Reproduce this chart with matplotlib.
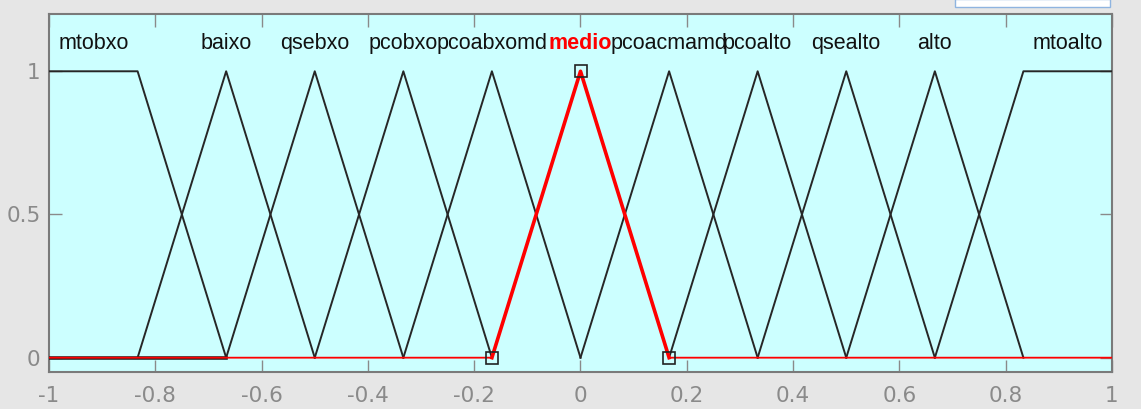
import numpy as np
import matplotlib.pyplot as plt
from matplotlib.patches import Rectangle

# membership functions of the variable (range -1..1)
names = ['mtobxo', 'baixo', 'qsebxo', 'pcobxo', 'pcoabxomd', 'medio',
         'pcoacmamd', 'pcoalto', 'qsealto', 'alto', 'mtoalto']
kinds = ['trap', 'tri', 'tri', 'tri', 'tri', 'tri', 'tri', 'tri', 'tri', 'tri', 'trap']
params = [
    [-1.1667, -1.0, -0.8333, -0.6667],
    [-0.8333, -0.6667, -0.5],
    [-0.6667, -0.5, -0.3333],
    [-0.5, -0.3333, -0.1667],
    [-0.3333, -0.1667, 0.0],
    [-0.1667, 0.0, 0.1667],
    [0.0, 0.1667, 0.3333],
    [0.1667, 0.3333, 0.5],
    [0.3333, 0.5, 0.6667],
    [0.5, 0.6667, 0.8333],
    [0.6667, 0.8333, 1.0, 1.1667],
]
selected = 'medio'
xrange_ = [-1, 1]
xticks = np.arange(-1, 1.01, 0.2)
yticks = [0, 0.5, 1]

axbg = '#ccffff'
figbg = '#e6e6e6'
grey = '#8a8a8a'
mfcol = '#262626'

fig = plt.figure(figsize=(11.41, 4.09), dpi=100, facecolor=figbg)
ax = fig.add_axes([49 / 1141, 37 / 409, 1063 / 1141, 358 / 409])
ax.set_facecolor(axbg)
plt.rcParams['font.family'] = ['Liberation Sans', 'DejaVu Sans']

for name, kind, p in zip(names, kinds, params):
    if kind == 'tri':
        xs = [p[0], p[1], p[2]]
        ys = [0, 1, 0]
    else:
        xs = [max(p[0], xrange_[0]), p[1], p[2], min(p[3], xrange_[1])]
        ys = [1 if p[0] < xrange_[0] else 0, 1, 1, 0]
        if p[3] > xrange_[1]:
            ys = [0, 1, 1, 1]
    if name == selected:
        continue
    ax.plot(xs, ys, color=mfcol, lw=1.4, zorder=3)

    # label placed over the top of the mf
    if kind == 'tri':
        lx = p[1]
    else:
        lx = (max(p[1], xrange_[0]) + min(p[2], xrange_[1])) / 2
    ax.text(lx, 1.098, name, ha='center', va='center', fontsize=15.5,
            color='#111111', zorder=5)

# black baseline left of the first mf
ax.plot([xrange_[0], params[0][3]], [0, 0], color=mfcol, lw=2.6, zorder=3)

# selected mf in red with vertex markers
i = names.index(selected)
p = params[i]
ax.plot([xrange_[0], p[0], p[1], p[2], xrange_[1]], [0, 0, 1, 0, 0],
        color='red', lw=1.3, zorder=4)
ax.plot([p[0], p[1], p[2]], [0, 1, 0], color='red', lw=2.6, zorder=4)
ax.plot([p[0], p[1], p[2]], [0, 1, 0], ls='none', marker='s', ms=8,
        mfc='none', mec='#222222', mew=1.2, zorder=6)
ax.text(p[1], 1.098, selected, ha='center', va='center', fontsize=15.5,
        color='red', fontweight='bold', zorder=5)

ax.set_xlim(-1, 1)
ax.set_ylim(-0.05, 1.2)
ax.set_xticks(xticks)
ax.set_xticklabels(['-1', '-0.8', '-0.6', '-0.4', '-0.2', '0', '0.2', '0.4',
                    '0.6', '0.8', '1'])
ax.set_yticks(yticks)
ax.set_yticklabels(['0', '0.5', '1'])
ax.tick_params(direction='in', length=9, width=1, color=grey, labelcolor=grey,
               labelsize=15.5, top=True, right=True, pad=6)
ax.tick_params(axis='x', pad=10)
for s in ax.spines.values():
    s.set_color('#7a7a7a')
    s.set_linewidth(1.5)

# part of a white control showing in the top right corner
fig.patches.append(Rectangle((955 / 1141, 1 - 7 / 409), 155 / 1141, 8 / 409,
                             transform=fig.transFigure, facecolor='white',
                             edgecolor='#8fb4e0', lw=1))

fig.savefig('out.png', dpi=100, facecolor=figbg)
